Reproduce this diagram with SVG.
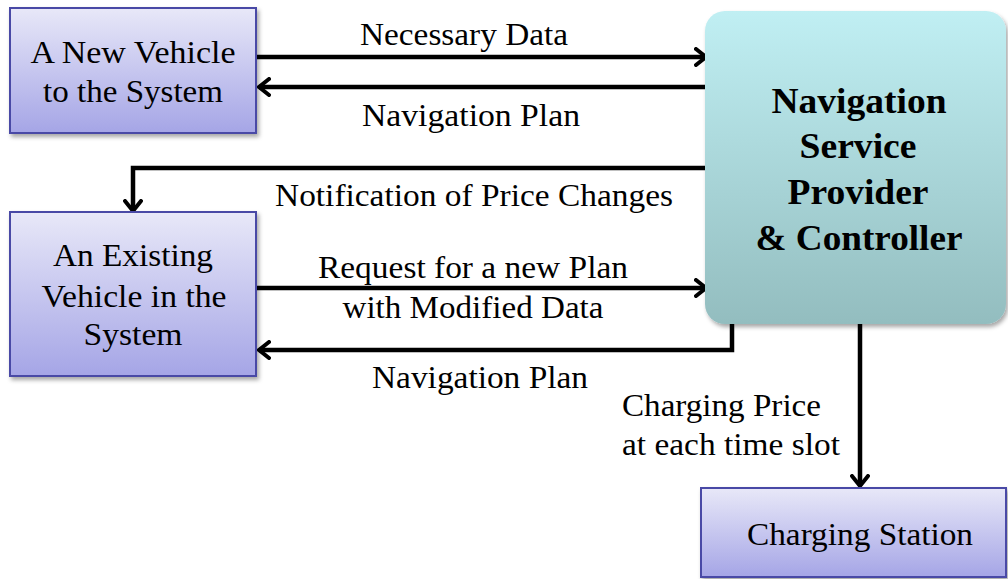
<svg xmlns="http://www.w3.org/2000/svg" width="1008" height="579" viewBox="0 0 1008 579">
<defs>
<linearGradient id="gBlue" x1="0" y1="0" x2="0" y2="1">
<stop offset="0" stop-color="#e8e8f8"/>
<stop offset="1" stop-color="#a5a5e6"/>
</linearGradient>
<linearGradient id="gTeal" x1="0" y1="0" x2="0" y2="1">
<stop offset="0" stop-color="#c0eff3"/>
<stop offset="1" stop-color="#93bdbf"/>
</linearGradient>
<filter id="sh" x="-10%" y="-10%" width="125%" height="130%">
<feDropShadow dx="2" dy="3" stdDeviation="2" flood-color="#000" flood-opacity="0.35"/>
</filter>
<marker id="arr" viewBox="0 0 14 20" refX="12" refY="10" markerWidth="14" markerHeight="20" markerUnits="userSpaceOnUse" orient="auto">
<path d="M2,2 L12,10 L2,18" fill="none" stroke="#000" stroke-width="4" stroke-linecap="round" stroke-linejoin="miter"/>
</marker>
<style>
.box{fill:url(#gBlue);stroke:#4a4aa6;stroke-width:2;filter:url(#sh)}
.nav{fill:url(#gTeal);stroke:none;filter:url(#sh)}
.t{font-family:"Liberation Serif","Times New Roman",serif;font-size:31px;fill:#000}
.b{font-family:"Liberation Serif","Times New Roman",serif;font-size:35px;font-weight:bold;fill:#000}
.c{fill:none;stroke:#000;stroke-width:4.5;stroke-linejoin:miter}
</style>
</defs>
<g id="connectors">
<line class="c" x1="256" y1="57" x2="706" y2="57" marker-end="url(#arr)"/>
<line class="c" x1="707" y1="87" x2="259" y2="87" marker-end="url(#arr)"/>
<polyline class="c" points="706,168 133,168 133,211" marker-end="url(#arr)"/>
<line class="c" x1="256" y1="288" x2="706" y2="288" marker-end="url(#arr)"/>
<polyline class="c" points="732,324 732,350 259,350" marker-end="url(#arr)"/>
<line class="c" x1="860" y1="324" x2="860" y2="486" marker-end="url(#arr)"/>
<text class="t" x="464" y="45" text-anchor="middle" textLength="208" lengthAdjust="spacingAndGlyphs">Necessary Data</text>
<text class="t" x="471" y="126" text-anchor="middle" textLength="218" lengthAdjust="spacingAndGlyphs">Navigation Plan</text>
<text class="t" x="474" y="206" text-anchor="middle" textLength="398" lengthAdjust="spacingAndGlyphs">Notification of Price Changes</text>
<text class="t" x="473" y="278" text-anchor="middle" textLength="310" lengthAdjust="spacingAndGlyphs">Request for a new Plan</text>
<text class="t" x="473" y="318" text-anchor="middle" textLength="261" lengthAdjust="spacingAndGlyphs">with Modified Data</text>
<text class="t" x="480" y="388" text-anchor="middle" textLength="216" lengthAdjust="spacingAndGlyphs">Navigation Plan</text>
<text class="t" x="622" y="416" textLength="199" lengthAdjust="spacingAndGlyphs">Charging Price</text>
<text class="t" x="622" y="455" textLength="218" lengthAdjust="spacingAndGlyphs">at each time slot</text>
</g>
<g id="new-vehicle">
<rect class="box" x="10" y="8" width="246" height="125"/>
<text class="t" x="133" y="63" text-anchor="middle" textLength="205" lengthAdjust="spacingAndGlyphs">A New Vehicle</text>
<text class="t" x="133" y="102" text-anchor="middle" textLength="180" lengthAdjust="spacingAndGlyphs">to the System</text>
</g>
<g id="existing-vehicle">
<rect class="box" x="10" y="212" width="246" height="164"/>
<text class="t" x="133" y="266" text-anchor="middle" textLength="160" lengthAdjust="spacingAndGlyphs">An Existing</text>
<text class="t" x="134" y="307" text-anchor="middle" textLength="185" lengthAdjust="spacingAndGlyphs">Vehicle in the</text>
<text class="t" x="133" y="345" text-anchor="middle" textLength="99" lengthAdjust="spacingAndGlyphs">System</text>
</g>
<g id="navigation-service">
<rect class="nav" x="705" y="11" width="301" height="313" rx="20" ry="20"/>
<text class="b" x="859" y="113" text-anchor="middle" textLength="175" lengthAdjust="spacingAndGlyphs">Navigation</text>
<text class="b" x="858" y="158" text-anchor="middle" textLength="117" lengthAdjust="spacingAndGlyphs">Service</text>
<text class="b" x="858" y="204" text-anchor="middle" textLength="141" lengthAdjust="spacingAndGlyphs">Provider</text>
<text class="b" x="859" y="250" text-anchor="middle" textLength="207" lengthAdjust="spacingAndGlyphs">&amp; Controller</text>
</g>
<g id="charging-station">
<rect class="box" x="701" y="488" width="305" height="89"/>
<text class="t" x="860" y="545" text-anchor="middle" textLength="226" lengthAdjust="spacingAndGlyphs">Charging Station</text>
</g>
</svg>
